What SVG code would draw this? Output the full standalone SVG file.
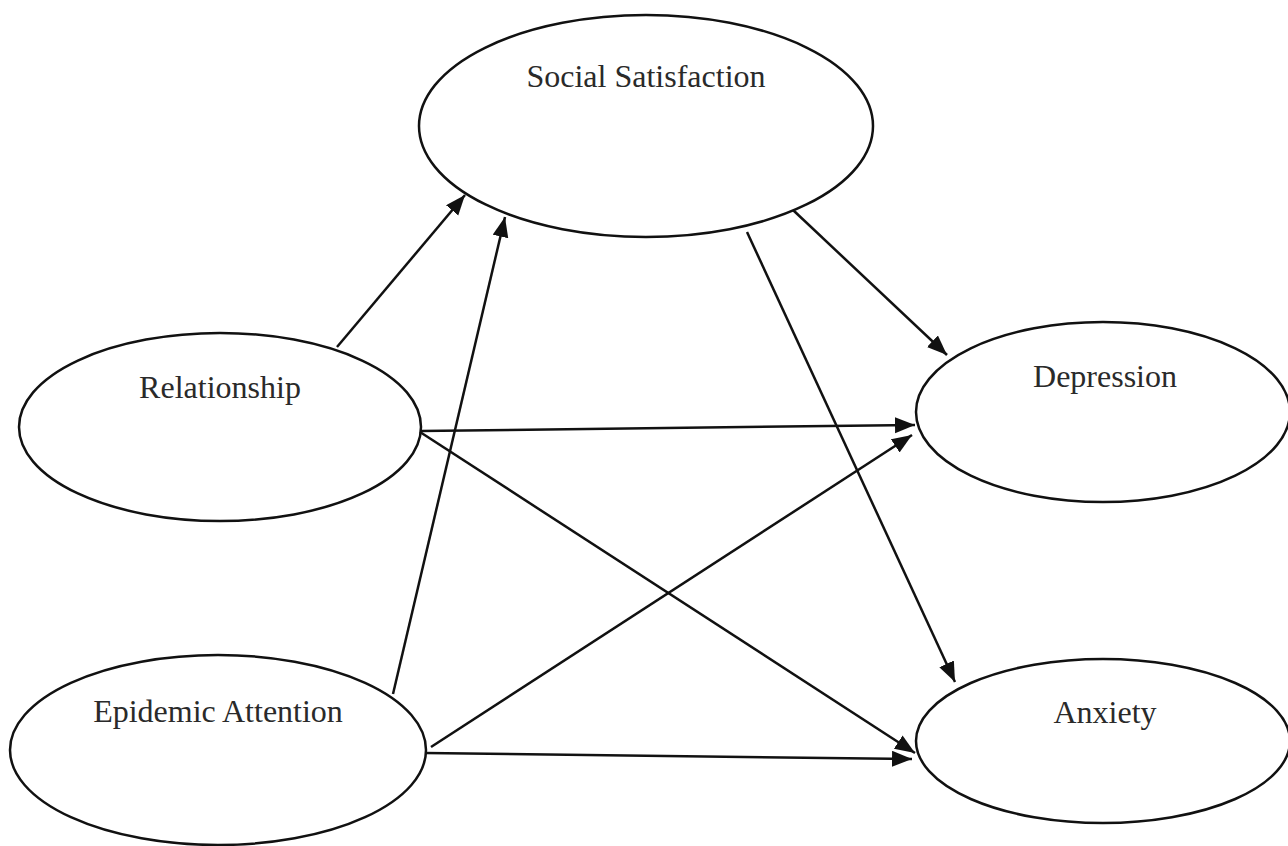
<svg xmlns="http://www.w3.org/2000/svg" width="1288" height="846" viewBox="0 0 1288 846">
<style>
.node ellipse{fill:#fff;stroke:#111;stroke-width:2.5}
.node text{font-family:"Liberation Serif","Times New Roman",serif;font-size:32px;fill:#2a2a2a;text-anchor:middle}
.edges line{stroke:#111;stroke-width:2.5;marker-end:url(#ah)}
</style>
<defs>
<marker id="ah" markerUnits="userSpaceOnUse" markerWidth="22" markerHeight="18" refX="20" refY="8" orient="auto">
<path d="M0,0 L20,8 L0,16 z" fill="#111"/>
</marker>
</defs>
<rect width="1288" height="846" fill="#fff"/>
<g id="n-social" class="node"><ellipse cx="646" cy="126" rx="227" ry="111"/><text x="646" y="87">Social Satisfaction</text></g>
<g id="n-relationship" class="node"><ellipse cx="220" cy="427" rx="201" ry="94"/><text x="220" y="398">Relationship</text></g>
<g id="n-epidemic" class="node"><ellipse cx="218" cy="750" rx="208" ry="95"/><text x="218" y="722">Epidemic Attention</text></g>
<g id="n-depression" class="node"><ellipse cx="1103" cy="412" rx="187" ry="90"/><text x="1105" y="387">Depression</text></g>
<g id="n-anxiety" class="node"><ellipse cx="1103" cy="741" rx="187" ry="82"/><text x="1105" y="723">Anxiety</text></g>
<g id="edges" class="edges">
<line x1="337" y1="347" x2="465" y2="195"/>
<line x1="393" y1="694" x2="505" y2="217"/>
<line x1="793" y1="210" x2="947" y2="355"/>
<line x1="747" y1="232" x2="955" y2="682"/>
<line x1="420" y1="431" x2="915" y2="425"/>
<line x1="420" y1="432" x2="915" y2="753"/>
<line x1="431" y1="747" x2="912" y2="435"/>
<line x1="425" y1="753" x2="912" y2="759"/>
</g>
</svg>
